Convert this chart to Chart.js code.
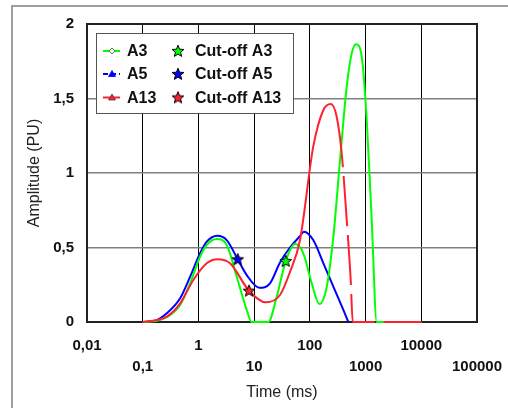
<!DOCTYPE html>
<html lang="en">
<head>
<meta charset="UTF-8">
<title>Amplitude</title>
<script src="https://cdn.jsdelivr.net/npm/chart.js"></script>
<style>
  html, body { margin: 0; padding: 0; background: #fff; }
  #box { width: 508px; height: 408px; }
</style>
</head>
<body>
<div id="box"><canvas id="grafico"></canvas></div>
<script>
// tempo em ms, amplitude em PU
const tempoA3 = [0.1, 0.18, 0.27, 0.47, 0.71, 1.07, 1.41, 2.13, 3.22, 4.87, 7.36, 9.04, 17.9, 25.4, 36.9, 54.2, 76.3, 108, 148, 201, 264, 348, 459, 564, 674, 853, 1049, 1289, 1585, 10000];
const ampA3   = [0, 0.008, 0.032, 0.114, 0.26, 0.438, 0.517, 0.557, 0.517, 0.304, 0.081, 0, 0, 0.17, 0.409, 0.523, 0.461, 0.26, 0.121, 0.237, 0.572, 1.087, 1.579, 1.803, 1.864, 1.781, 1.356, 0.685, 0, 0];

const tempoA5 = [0.1, 0.18, 0.27, 0.47, 0.71, 1.07, 1.41, 2.18, 3.22, 5.07, 7.36, 12.4, 19.3, 29.1, 44, 66.6, 78.5, 115, 175, 264, 399, 490];
const ampA5   = [0, 0.013, 0.058, 0.159, 0.304, 0.461, 0.539, 0.579, 0.55, 0.421, 0.315, 0.23, 0.26, 0.4, 0.5, 0.577, 0.606, 0.55, 0.394, 0.237, 0.081, 0];

const tempoA13 = [0.1, 0.27, 0.47, 0.81, 1.41, 2.18, 3.69, 8.09, 16.1, 29.1, 44, 66.6, 115, 175, 237, 303, 373, 459, 541, 588, 10000];
const ampA13   = [0, 0.036, 0.125, 0.282, 0.394, 0.421, 0.394, 0.21, 0.132, 0.181, 0.336, 0.55, 1.177, 1.423, 1.463, 1.378, 1.132, 0.685, 0.282, 0, 0];

// pontos de corte (A3, A5, A13)
const corteNomes = ['Cut-off A3', 'Cut-off A5', 'Cut-off A13'];
const corteTempo = [36.9, 5.07, 8.09];
const corteAmp   = [0.409, 0.421, 0.21];

const ticksTempo = [0.01, 0.1, 1, 10, 100, 1000, 10000, 100000];
const ticksAmp   = [0, 0.5, 1, 1.5, 2];

const verde = '#00ff00', azul = '#0000ff', vermelho = '#ff2030';
const fonte = "'Liberation Sans', Arial, sans-serif";
const inicioTracejado = 373; // a partir daqui a curva A13 fica tracejada

function estrela(cor) {
  const c = document.createElement('canvas');
  c.width = 14; c.height = 14;
  const g = c.getContext('2d');
  g.beginPath();
  for (let i = 0; i < 10; i++) {
    const r = i % 2 ? 2.7 : 6.2;
    const a = -Math.PI / 2 + i * Math.PI / 5;
    g.lineTo(7 + r * Math.cos(a), 7.4 + r * Math.sin(a));
  }
  g.closePath();
  g.fillStyle = cor; g.fill();
  g.strokeStyle = '#000'; g.lineWidth = 1; g.stroke();
  return c;
}
const estrelas = [estrela(verde), estrela(azul), estrela(vermelho)];

function pontos(xs, ys) { return xs.map((x, i) => ({ x: x, y: ys[i] })); }

const curva = (label, xs, ys, cor, ordem) => ({
  label: label, data: pontos(xs, ys), borderColor: cor, borderWidth: 2,
  pointRadius: 0, cubicInterpolationMode: 'monotone', fill: false, order: ordem, clip: 3
});

const dsA13 = curva('A13', tempoA13, ampA13, vermelho, 1);
dsA13.segment = {
  borderDash: ctx => ctx.p0.parsed.x >= inicioTracejado ? [50, 9] : undefined,
  borderDashOffset: ctx => ctx.p0.parsed.x >= inicioTracejado ? 36 : undefined
};

const datasets = [
  curva('A5', tempoA5, ampA5, azul, 3),
  curva('A3', tempoA3, ampA3, verde, 2),
  dsA13
];
corteNomes.forEach((nome, i) => {
  datasets.push({
    label: nome, data: [{ x: corteTempo[i], y: corteAmp[i] }], showLine: false,
    pointStyle: estrelas[i], pointRadius: 7, order: 0
  });
});

// moldura externa e moldura da área do gráfico
const molduras = {
  id: 'molduras',
  beforeDraw(chart) {
    const g = chart.ctx;
    g.save();
    g.strokeStyle = '#808080'; g.lineWidth = 1.5;
    g.beginPath(); g.moveTo(12, 408); g.lineTo(12, 6); g.lineTo(508, 6); g.stroke();
    g.restore();
  },
  beforeDatasetsDraw(chart) {
    const a = chart.chartArea, g = chart.ctx;
    g.save();
    g.strokeStyle = '#222'; g.lineWidth = 2;
    g.strokeRect(a.left, a.top, a.right - a.left, a.bottom - a.top);
    g.restore();
  }
};

// legenda em duas colunas
const legenda = {
  id: 'legenda',
  afterDraw(chart) {
    const g = chart.ctx;
    const linhas = [51, 74, 97.5];
    g.save();
    g.fillStyle = '#fff'; g.fillRect(96, 33, 197, 80);
    g.strokeStyle = '#555'; g.lineWidth = 1; g.strokeRect(96.5, 33.5, 197, 80);
    const cores = [verde, azul, vermelho], nomes = ['A3', 'A5', 'A13'];
    linhas.forEach((y, i) => {
      g.strokeStyle = cores[i]; g.lineWidth = 2;
      g.setLineDash(i === 1 ? [5, 3] : []);
      g.beginPath(); g.moveTo(103, y); g.lineTo(120, y); g.stroke();
      g.setLineDash([]);
      if (i === 0) {
        g.beginPath(); g.moveTo(112, y - 3); g.lineTo(115, y); g.lineTo(112, y + 3); g.lineTo(109, y); g.closePath();
        g.fillStyle = '#fff'; g.fill(); g.strokeStyle = '#3a8a3a'; g.lineWidth = 1; g.stroke();
      } else {
        g.beginPath(); g.moveTo(112, y - 3.5); g.lineTo(115.5, y + 2.5); g.lineTo(108.5, y + 2.5); g.closePath();
        g.fillStyle = cores[i]; g.fill();
        g.strokeStyle = i === 1 ? cores[i] : '#444'; g.lineWidth = 0.8; g.stroke();
      }
      g.fillStyle = '#111'; g.font = 'bold 16px ' + fonte; g.textBaseline = 'middle';
      g.fillText(nomes[i], 127, y + 1);
      g.drawImage(estrelas[i], 171, y - 7);
      g.fillText(corteNomes[i], 195, y + 1);
    });
    g.restore();
  }
};

const virgula = v => String(v).replace('.', ',');

new Chart(document.getElementById('grafico'), {
  type: 'line',
  data: { datasets: datasets },
  options: {
    responsive: true, maintainAspectRatio: false, animation: false,
    layout: { padding: { top: 24, right: 31, left: 0, bottom: 0 } },
    plugins: { legend: { display: false }, tooltip: { enabled: false } },
    scales: {
      x: {
        type: 'logarithmic', min: 0.01, max: 100000,
        afterBuildTicks: s => { s.ticks = ticksTempo.map(v => ({ value: v })); },
        afterFit: s => { s.height = 86; s.paddingLeft = 0; s.paddingRight = 0; },
        grid: { color: '#000', lineWidth: 1, drawTicks: false },
        border: { display: false },
        ticks: {
          autoSkip: false, maxRotation: 0, padding: 13, color: '#111',
          font: { family: fonte, size: 15, weight: 'bold', lineHeight: 1.4 },
          callback: (v) => {
            const i = ticksTempo.indexOf(v);
            return i % 2 === 0 ? [virgula(v), ''] : ['', virgula(v)];
          }
        },
        title: { display: true, text: 'Time (ms)', color: '#222', padding: { top: 0, bottom: 6 },
                 font: { family: fonte, size: 16 } }
      },
      y: {
        min: 0, max: 2,
        afterBuildTicks: s => { s.ticks = ticksAmp.map(v => ({ value: v })); },
        afterFit: s => { s.width = 87; },
        grid: { color: '#808080', lineWidth: 1.5, drawTicks: false },
        border: { display: false },
        ticks: { padding: 13, color: '#111', font: { family: fonte, size: 15, weight: 'bold' },
                 callback: v => virgula(v) },
        title: { display: true, text: 'Amplitude (PU)', color: '#222', padding: { top: 25, bottom: 0 },
                 font: { family: fonte, size: 16 } }
      }
    }
  },
  plugins: [molduras, legenda]
});
</script>
</body>
</html>
